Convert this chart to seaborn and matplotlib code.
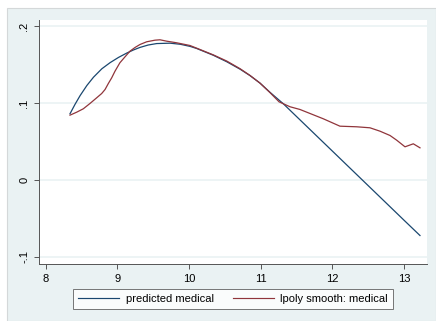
import matplotlib
matplotlib.use("Agg")
import matplotlib.pyplot as plt
from matplotlib.patches import Rectangle
import pandas as pd
import seaborn as sns

# Fitted values from the regression on log income
pred_x = [8.339, 8.41, 8.48, 8.575, 8.667, 8.784, 8.90, 9.016, 9.13, 9.225,
          9.316, 9.43, 9.549, 9.735, 9.877, 10.016, 10.107, 10.339, 10.526,
          10.713, 10.851, 10.991, 11.13, 11.316, 11.503, 11.688, 12.0, 12.5,
          13.0, 13.223]
pred_y = [0.0860, 0.0984, 0.1096, 0.1228, 0.1335, 0.1445, 0.1525, 0.1592, 0.1648, 0.1689,
          0.1722, 0.1753, 0.1772, 0.1777, 0.1763, 0.1735, 0.1708, 0.162, 0.1536,
          0.1439, 0.1356, 0.1258, 0.1139, 0.099, 0.0822, 0.0656, 0.0376, -0.0073,
          -0.0522, -0.0721]

# Local polynomial smooth of the same outcome
lpoly_x = [8.339, 8.433, 8.525, 8.618, 8.712, 8.781, 8.828, 8.874, 8.921, 8.967,
           9.035, 9.107, 9.176, 9.246, 9.316, 9.409, 9.525, 9.595, 9.688, 9.828,
           10.013, 10.107, 10.339, 10.526, 10.713, 10.851, 10.991, 11.13, 11.257,
           11.41, 11.548, 11.688, 11.874, 12.106, 12.34, 12.525, 12.665, 12.805,
           12.898, 13.014, 13.13, 13.223]
lpoly_y = [0.0842, 0.0881, 0.0925, 0.0994, 0.1068, 0.1123, 0.1175, 0.1253, 0.1327, 0.1413,
           0.1522, 0.160, 0.1673, 0.1721, 0.176, 0.1795, 0.1816, 0.1821, 0.1803, 0.1782,
           0.1747, 0.1712, 0.1625, 0.1545, 0.1445, 0.1358, 0.1258, 0.1135, 0.1015,
           0.0951, 0.0916, 0.0864, 0.0795, 0.0699, 0.0691, 0.0678, 0.0634, 0.0578,
           0.0517, 0.0431, 0.047, 0.0418]

series_names = ["predicted medical", "lpoly smooth: medical"]
series_colors = ["#1a476f", "#90353b"]

x_ticks = [8, 9, 10, 11, 12, 13]
y_ticks = [-0.1, 0, 0.1, 0.2]
y_tick_labels = ["-.1", "0", ".1", ".2"]

df = pd.concat([
    pd.DataFrame({"x": pred_x, "y": pred_y, "series": series_names[0]}),
    pd.DataFrame({"x": lpoly_x, "y": lpoly_y, "series": series_names[1]}),
], ignore_index=True)

plt.rcParams["font.family"] = ["Liberation Sans", "DejaVu Sans"]

W, H = 436, 321
fig = plt.figure(figsize=(W / 100, H / 100), dpi=100, facecolor="white")

# graph region background, kept behind the axes
region = Rectangle((7 / W, 0), 1 - 7 / W, 1 - 8 / H, transform=fig.transFigure,
                   facecolor="#eaf2f3", edgecolor="#d4d8d9", linewidth=0.8,
                   zorder=-10)
fig.add_artist(region)

ax = fig.add_axes([39 / W, (H - 264) / H, 388 / W, 244 / H])
ax.set_zorder(1)
ax.set_facecolor("white")

sns.lineplot(data=df, x="x", y="y", hue="series", hue_order=series_names,
             palette=series_colors, estimator=None, sort=True, linewidth=0.9,
             legend=False, ax=ax)

ax.set_xlim(7.9065, 13.321)
ax.set_ylim(-0.1091, 0.2078)
ax.set_xticks(x_ticks)
ax.set_xticklabels([str(t) for t in x_ticks])
ax.set_yticks(y_ticks)
ax.set_yticklabels(y_tick_labels, rotation=90, va="center")
ax.set_xlabel("")
ax.set_ylabel("")

ax.grid(axis="y", color="#eaf2f3", linewidth=1.2)
ax.grid(axis="x", visible=False)
ax.set_axisbelow(True)

for side in ["top", "right"]:
    ax.spines[side].set_visible(False)
for side in ["left", "bottom"]:
    ax.spines[side].set_color("#555555")
    ax.spines[side].set_linewidth(0.7)

ax.tick_params(axis="both", length=3.6, width=0.7, color="#555555",
               labelsize=8, labelcolor="black", pad=3.5)

handles = [plt.Line2D([], [], color=c, linewidth=0.85) for c in series_colors]
leg = fig.legend(handles, series_names, loc="center", ncol=2,
                 bbox_to_anchor=(233 / W, 1 - 298.5 / H), fontsize=8,
                 frameon=True, fancybox=False, edgecolor="#555555",
                 handlelength=3.7, handletextpad=0.6, columnspacing=1.7,
                 borderpad=0.45, borderaxespad=0)
leg.get_frame().set_linewidth(0.7)
leg.get_frame().set_facecolor("white")

fig.savefig("out.png", dpi=100, facecolor=fig.get_facecolor())
